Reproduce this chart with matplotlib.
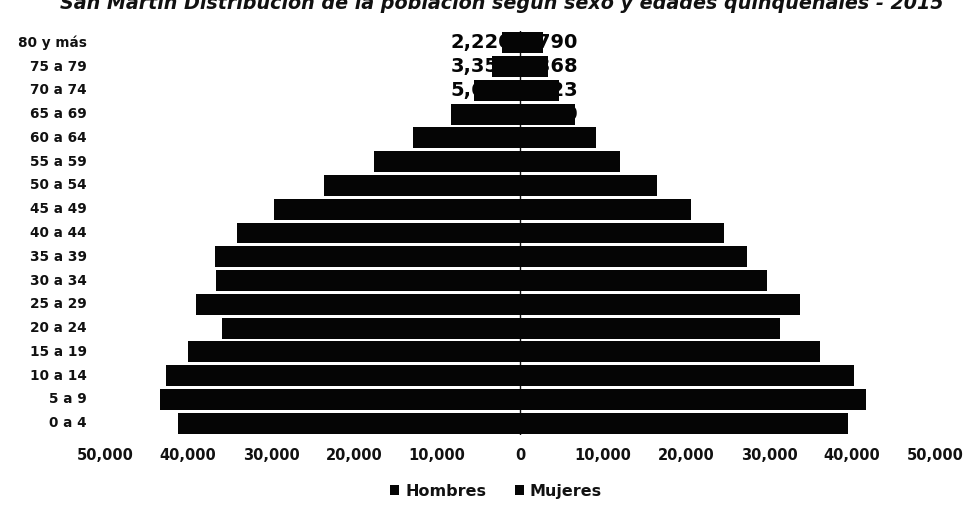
import matplotlib
matplotlib.use('Agg')
import matplotlib.pyplot as plt
import matplotlib.transforms as mtransforms
from matplotlib.ticker import FuncFormatter
import numpy as np

plt.rcParams['font.family'] = ['DejaVu Sans']

# age groups, bottom to top
ages = ['0 a 4', '5 a 9', '10 a 14', '15 a 19', '20 a 24', '25 a 29', '30 a 34',
        '35 a 39', '40 a 44', '45 a 49', '50 a 54', '55 a 59', '60 a 64',
        '65 a 69', '70 a 74', '75 a 79', '80 y más']
hombres = [41150, 43420, 42700, 39950, 35890, 39000, 36600, 36720, 34090,
           29670, 23560, 17580, 12920, 8370, 5600, 3352, 2220]
mujeres = [39470, 41630, 40190, 36120, 31340, 33730, 29780, 27390, 24520,
           20570, 16510, 12080, 9210, 6580, 4723, 3368, 2790]
xticks = [-50000, -40000, -30000, -20000, -10000, 0, 10000, 20000, 30000, 40000, 50000]
title = 'San Martín Distribución de la población según sexo y edades quinquenales - 2015'

fig = plt.figure(figsize=(9.74, 5.11), dpi=100)
ax_l, ax_w = 105, 830
ax = fig.add_axes([ax_l / 974, 1 - 435 / 511, ax_w / 974, 404 / 511])
px = 100000 / ax_w  # data units per pixel

bar_color = '#050505'
y = np.arange(len(ages))
ax.barh(y, [-v for v in hombres], height=0.88, color=bar_color, zorder=3, label='Hombres')
ax.barh(y, mujeres, height=0.88, color=bar_color, zorder=3, label='Mujeres')
ax.axvline(0, color='#111111', linewidth=1, zorder=1)

# data labels near the axis, black on black so only the overflow shows
for i in range(len(ages)):
    ax.text(-8 * px, y[i], f'{hombres[i]:,}', ha='right', va='center',
            fontsize=14, fontweight='bold', color=bar_color, zorder=4)
    ax.text(58 * px, y[i], f'{mujeres[i]:,}', ha='right', va='center',
            fontsize=14, fontweight='bold', color=bar_color, zorder=4)

ax.set_xlim(-50000, 50000)
ax.set_ylim(-0.5, 16.5)
ax.set_xticks(xticks)
ax.xaxis.set_major_formatter(FuncFormatter(lambda v, p: f'{abs(int(v)):,}'))
ax.tick_params(axis='x', length=0, pad=9, labelsize=10.5, colors='#111111')
for lab in ax.get_xticklabels():
    lab.set_fontweight('bold')
ax.set_yticks([])
for s in ax.spines.values():
    s.set_visible(False)

# age labels left of the plot area
trans = mtransforms.blended_transform_factory(ax.transAxes, ax.transData)
for i, a in enumerate(ages):
    ax.text(-18 / ax_w, y[i], a, transform=trans, ha='right', va='center',
            fontsize=9.8, fontweight='bold', color='#111111')

fig.text(0.515, 1 - 9 / 511, title, ha='center', va='baseline', fontsize=13.8,
         fontweight='bold', style='italic', color='#111111')

leg = fig.legend(loc='center', bbox_to_anchor=(496 / 974, 1 - 491 / 511), ncol=2,
                 frameon=False, fontsize=11.5, handlelength=0.55, handleheight=0.55,
                 handletextpad=0.4, columnspacing=1.8)
for t in leg.get_texts():
    t.set_fontweight('bold')
    t.set_color('#111111')

fig.savefig('out.png', dpi=100, facecolor='white')
